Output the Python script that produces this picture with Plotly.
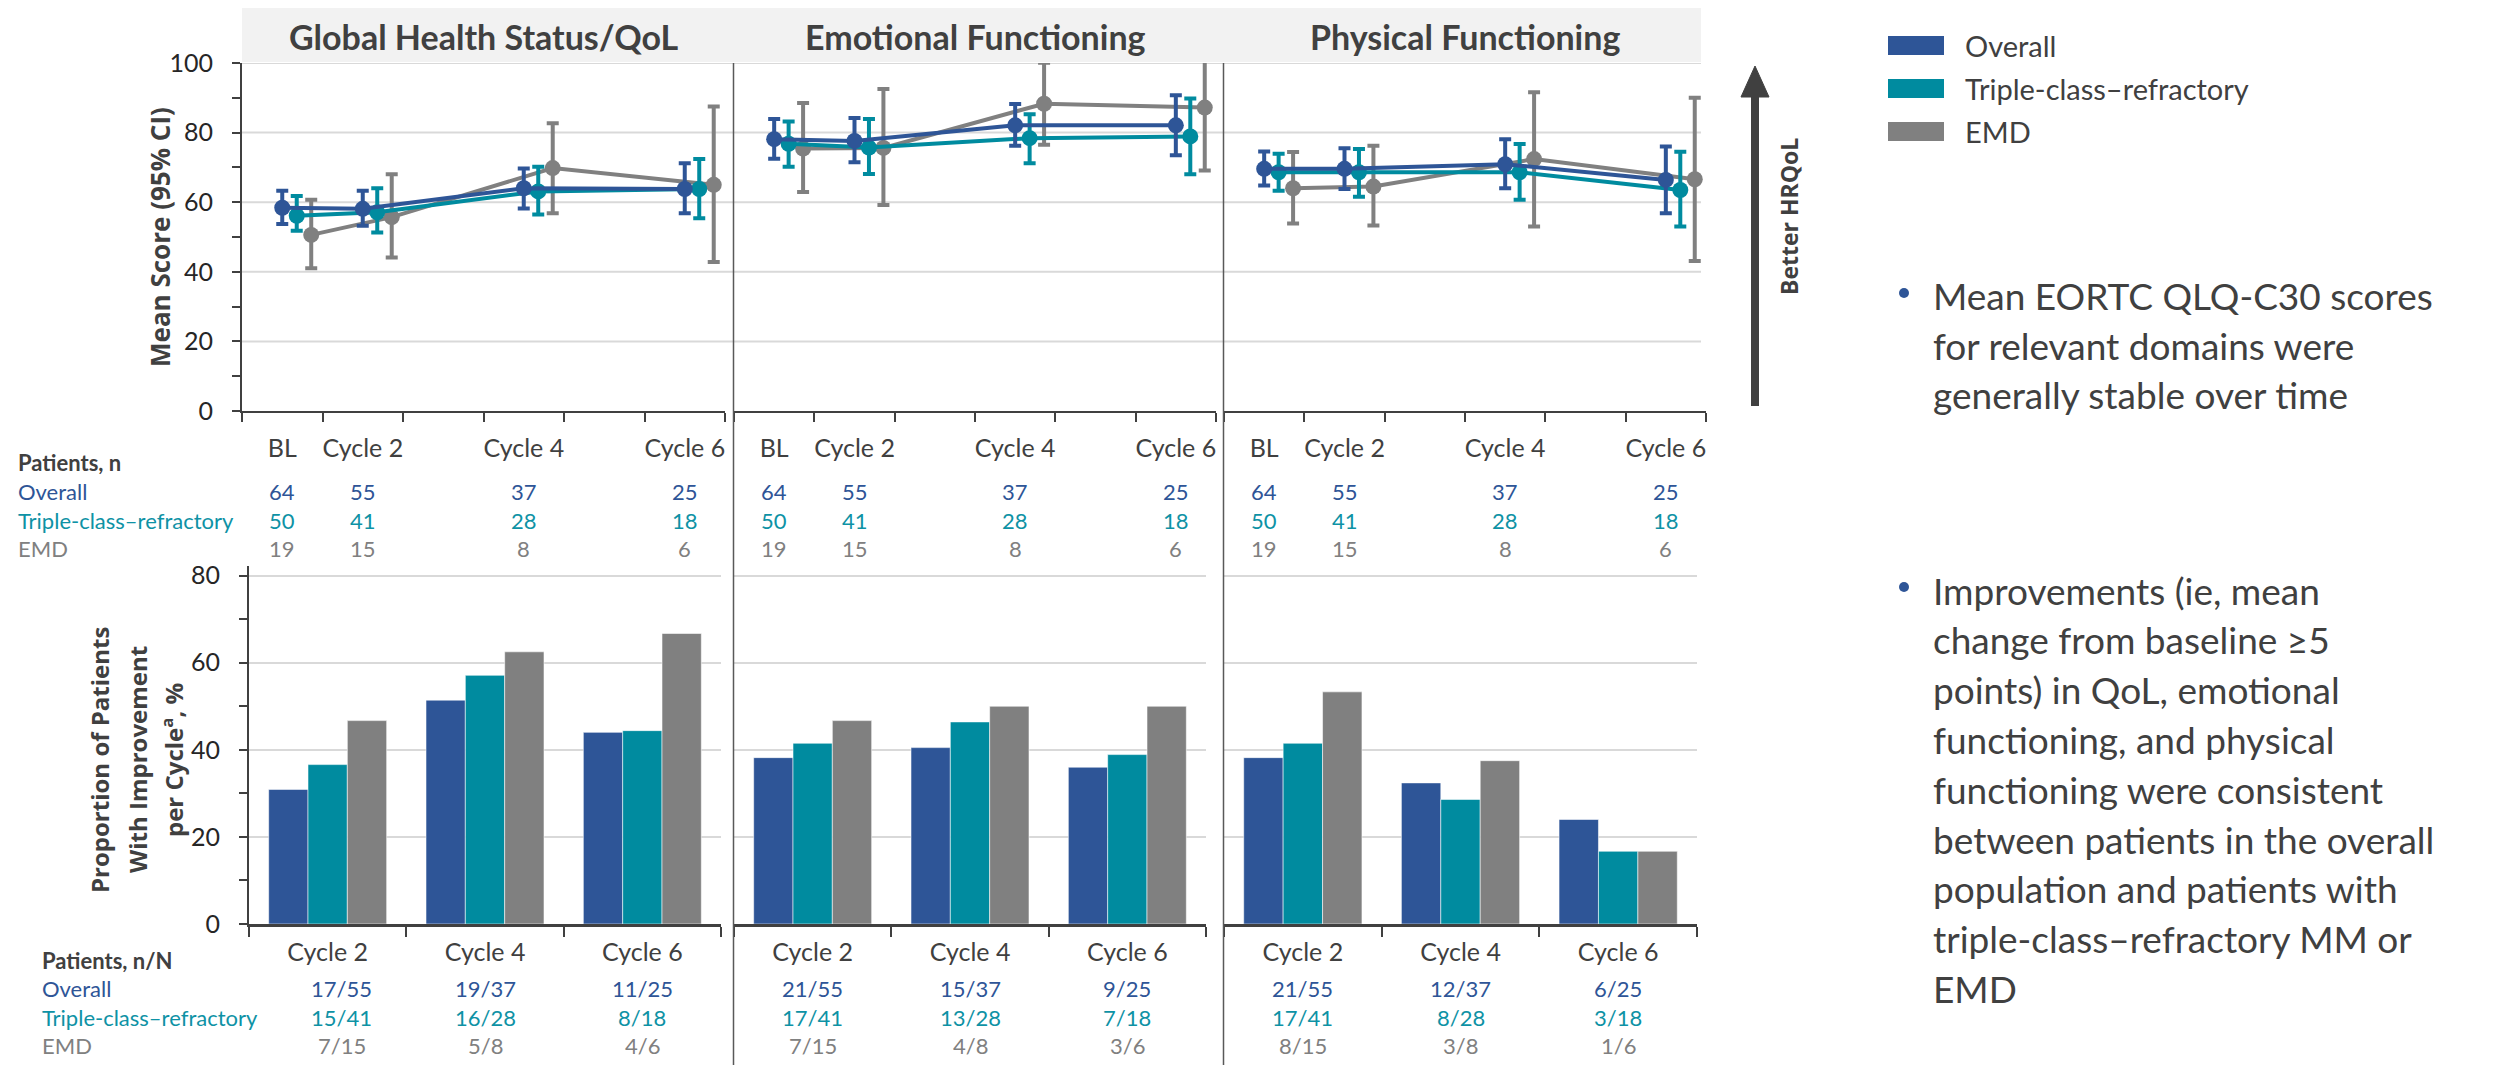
import plotly.graph_objects as go

W, H = 2499, 1065
# the page places the figure 8px in from the top-left corner; targets below are picture pixels
X_OFF, Y_OFF = 8.0, 8.0


def fx(p):
    return (p - X_OFF) / W


def fy(p):
    return 1 - (p - Y_OFF) / H


# ---------------- data ----------------
panel_titles = ["Global Health Status/QoL", "Emotional Functioning", "Physical Functioning"]
timepoints = ["BL", "Cycle 2", "Cycle 4", "Cycle 6"]
timepoint_cycle = [1, 2, 4, 6]
bar_cycles = ["Cycle 2", "Cycle 4", "Cycle 6"]
group_names = ["Overall", "Triple-class–refractory", "EMD"]

# Mean score (95% CI) — Global Health Status/QoL
ghs_overall_mean = [58.4, 58.1, 64.0, 63.8]
ghs_overall_lo = [53.7, 53.2, 58.2, 56.8]
ghs_overall_hi = [63.3, 63.3, 69.7, 71.2]
ghs_triple_mean = [56.1, 57.1, 63.1, 63.8]
ghs_triple_lo = [51.8, 51.3, 56.5, 55.4]
ghs_triple_hi = [61.8, 64.0, 70.2, 72.4]
ghs_emd_mean = [50.6, 55.7, 69.8, 65.0]
ghs_emd_lo = [41.0, 44.1, 56.8, 42.8]
ghs_emd_hi = [60.7, 68.0, 82.7, 87.5]

# Emotional Functioning
ef_overall_mean = [78.1, 77.6, 82.1, 82.1]
ef_overall_lo = [72.5, 71.5, 76.2, 73.5]
ef_overall_hi = [83.9, 84.2, 88.2, 90.7]
ef_triple_mean = [76.8, 75.7, 78.4, 78.9]
ef_triple_lo = [70.2, 68.1, 71.2, 68.0]
ef_triple_hi = [83.2, 83.9, 85.3, 89.8]
ef_emd_mean = [75.4, 75.6, 88.3, 87.2]
ef_emd_lo = [62.9, 59.2, 76.5, 69.1]
ef_emd_hi = [88.5, 92.5, 100.1, 105.3]

# Physical Functioning
pf_overall_mean = [69.6, 69.6, 70.9, 66.4]
pf_overall_lo = [64.8, 63.8, 64.0, 56.8]
pf_overall_hi = [74.6, 75.5, 78.1, 76.0]
pf_triple_mean = [68.6, 68.6, 68.6, 63.5]
pf_triple_lo = [63.3, 61.6, 60.7, 53.0]
pf_triple_hi = [73.9, 75.3, 76.7, 74.5]
pf_emd_mean = [64.0, 64.5, 72.4, 66.6]
pf_emd_lo = [53.9, 53.3, 53.0, 43.1]
pf_emd_hi = [74.4, 76.2, 91.6, 90.0]

# Patients, n
n_overall = [64, 55, 37, 25]
n_triple = [50, 41, 28, 18]
n_emd = [19, 15, 8, 6]

# Proportion of patients with improvement per cycle, %
ghs_pct_overall = [30.9, 51.4, 44.0]
ghs_pct_triple = [36.6, 57.1, 44.4]
ghs_pct_emd = [46.7, 62.5, 66.7]
ef_pct_overall = [38.2, 40.5, 36.0]
ef_pct_triple = [41.5, 46.4, 38.9]
ef_pct_emd = [46.7, 50.0, 50.0]
pf_pct_overall = [38.2, 32.4, 24.0]
pf_pct_triple = [41.5, 28.6, 16.7]
pf_pct_emd = [53.3, 37.5, 16.7]

# Patients, n/N
ghs_nN_overall = ["17/55", "19/37", "11/25"]
ghs_nN_triple = ["15/41", "16/28", "8/18"]
ghs_nN_emd = ["7/15", "5/8", "4/6"]
ef_nN_overall = ["21/55", "15/37", "9/25"]
ef_nN_triple = ["17/41", "13/28", "7/18"]
ef_nN_emd = ["7/15", "4/8", "3/6"]
pf_nN_overall = ["21/55", "12/37", "6/25"]
pf_nN_triple = ["17/41", "8/28", "3/18"]
pf_nN_emd = ["8/15", "3/8", "1/6"]

bullet1_lines = ["Mean EORTC QLQ-C30 scores", "for relevant domains were", "generally stable over time"]
bullet2_lines = ["Improvements (ie, mean", "change from baseline ≥5", "points) in QoL, emotional",
                 "functioning, and physical", "functioning were consistent",
                 "between patients in the overall", "population and patients with",
                 "triple-class–refractory MM or", "EMD"]

# ---------------- style ----------------
C_LINE = ["#2E5597", "#008B9F", "#808080"]
C_TEXT = ["#2E5597", "#0E92A5", "#808080"]
DARK = "#404040"
GRID = "#D9D9D9"
REG = "Lato, 'Open Sans', sans-serif"
WIDE_BOLD = "'Open Sans', 'Noto Sans', sans-serif"
dodge = [0.0, 0.18, 0.36]

line_sets = [
    [(ghs_overall_mean, ghs_overall_lo, ghs_overall_hi),
     (ghs_triple_mean, ghs_triple_lo, ghs_triple_hi),
     (ghs_emd_mean, ghs_emd_lo, ghs_emd_hi)],
    [(ef_overall_mean, ef_overall_lo, ef_overall_hi),
     (ef_triple_mean, ef_triple_lo, ef_triple_hi),
     (ef_emd_mean, ef_emd_lo, ef_emd_hi)],
    [(pf_overall_mean, pf_overall_lo, pf_overall_hi),
     (pf_triple_mean, pf_triple_lo, pf_triple_hi),
     (pf_emd_mean, pf_emd_lo, pf_emd_hi)],
]
bar_sets = [
    [ghs_pct_overall, ghs_pct_triple, ghs_pct_emd],
    [ef_pct_overall, ef_pct_triple, ef_pct_emd],
    [pf_pct_overall, pf_pct_triple, pf_pct_emd],
]
nN_sets = [
    [ghs_nN_overall, ghs_nN_triple, ghs_nN_emd],
    [ef_nN_overall, ef_nN_triple, ef_nN_emd],
    [pf_nN_overall, pf_nN_triple, pf_nN_emd],
]
n_sets = [n_overall, n_triple, n_emd]

top_x_px = [(242, 725), (734, 1216), (1224, 1706)]
top_y_px = (63, 411)
bot_x_px = [(249, 721), (734, 1206), (1224, 1697)]
bot_y_px = (566, 924)
BOT_TOP = 82.2
top_rows_y = [491, 520, 548]
bot_rows_y = [988, 1017, 1045]
nN_first_col_shift = [0.09, 0.0, 0.0]

fig = go.Figure()
layout = dict(
    width=W, height=H, margin=dict(l=0, r=0, t=0, b=0, autoexpand=False), autosize=False,
    paper_bgcolor="white", plot_bgcolor="white", showlegend=False,
    barmode="group", bargap=0.25, bargroupgap=0,
    font=dict(family=REG, color=DARK),
)

annotations = []
shapes = []

for p in range(3):
    xa = "x" if p == 0 else f"x{p + 1}"
    ya = "y" if p == 0 else f"y{p + 1}"
    xb = f"x{p + 4}"
    yb = f"y{p + 4}"
    # ---- top line chart ----
    for g in [2, 1, 0]:
        mean, lo, hi = line_sets[p][g]
        fig.add_trace(go.Scatter(
            x=[c + dodge[g] for c in timepoint_cycle], y=mean, xaxis=xa, yaxis=ya,
            mode="lines+markers", name=group_names[g],
            line=dict(color=C_LINE[g], width=4),
            marker=dict(color=C_LINE[g], size=16),
            error_y=dict(type="data", symmetric=False,
                         array=[h - m for h, m in zip(hi, mean)],
                         arrayminus=[m - l for m, l in zip(mean, lo)],
                         color=C_LINE[g], thickness=4, width=6),
        ))
    # ---- bottom bars ----
    for g in range(3):
        fig.add_trace(go.Bar(
            x=bar_cycles, y=bar_sets[p][g], xaxis=xb, yaxis=yb, name=group_names[g],
            marker=dict(color=C_LINE[g], line=dict(color="rgba(255,255,255,0.55)", width=1)),
        ))

    key_x = "xaxis" if p == 0 else f"xaxis{p + 1}"
    key_y = "yaxis" if p == 0 else f"yaxis{p + 1}"
    layout[key_x] = dict(
        domain=[fx(top_x_px[p][0]), fx(top_x_px[p][1])], anchor=ya, range=[0.5, 6.5],
        tickvals=timepoint_cycle, ticktext=timepoints, ticks="", ticklen=0,
        tickfont=dict(family=REG, size=25, color=DARK), ticklabelstandoff=14,
        showline=True, linecolor=DARK, linewidth=2, showgrid=False, zeroline=False,
        automargin=False,
        minor=dict(tickvals=[0.5, 1.5, 2.5, 3.5, 4.5, 5.5, 6.5], ticks="outside",
                   ticklen=9, tickwidth=2, tickcolor=DARK, showgrid=False),
    )
    layout[key_y] = dict(
        domain=[fy(top_y_px[1]), fy(top_y_px[0])], anchor=xa, range=[0, 100],
        showgrid=False, zeroline=False, automargin=False,
    )
    if p == 0:
        layout[key_y].update(
            tickvals=[0, 20, 40, 60, 80, 100], ticks="outside", ticklen=8, tickwidth=2,
            tickcolor=DARK, showline=True, linecolor=DARK, linewidth=2,
            tickfont=dict(family=REG, size=25, color="#262626"), ticklabelstandoff=14,
            minor=dict(tickvals=[10, 30, 50, 70, 90], ticks="outside", ticklen=8,
                       tickwidth=2, tickcolor=DARK, showgrid=False),
        )
    else:
        layout[key_y].update(showticklabels=False, ticks="", showline=False)

    layout[f"xaxis{p + 4}"] = dict(
        domain=[fx(bot_x_px[p][0]), fx(bot_x_px[p][1])], anchor=yb, type="category",
        range=[-0.5, 2.5], tickson="boundaries", ticks="outside", ticklen=10, tickwidth=2,
        tickcolor=DARK, showline=True, linecolor=DARK, linewidth=3,
        tickfont=dict(family=REG, size=25, color=DARK), ticklabelstandoff=4,
        showgrid=False, zeroline=False, automargin=False,
    )
    layout[f"yaxis{p + 4}"] = dict(
        domain=[fy(bot_y_px[1]), fy(bot_y_px[0])], anchor=xb, range=[0, BOT_TOP],
        tickvals=[0, 20, 40, 60, 80], showgrid=True, gridcolor=GRID, gridwidth=2,
        zeroline=False, automargin=False,
    )
    if p == 0:
        layout[f"yaxis{p + 4}"].update(
            ticks="outside", ticklen=8, tickwidth=2, tickcolor=DARK, showline=True,
            linecolor=DARK, linewidth=2, tickfont=dict(family=REG, size=25, color="#262626"),
            ticklabelstandoff=14,
            minor=dict(tickvals=[10, 30, 50, 70], ticks="outside", ticklen=8, tickwidth=2,
                       tickcolor=DARK, showgrid=False),
        )
    else:
        layout[f"yaxis{p + 4}"].update(showticklabels=False, ticks="", showline=False)

    # panel title
    annotations.append(dict(
        text=panel_titles[p], xref="paper", yref="paper",
        x=fx((top_x_px[p][0] + top_x_px[p][1]) / 2), y=fy(36),
        xanchor="center", yanchor="middle", showarrow=False,
        font=dict(family=REG, size=34, color=DARK, weight="bold"),
    ))
    # Patients, n table numbers
    for g in range(3):
        for i in range(4):
            annotations.append(dict(
                text=str(n_sets[g][i]), xref=xa, yref="paper", x=timepoint_cycle[i],
                y=fy(top_rows_y[g]), xanchor="center", yanchor="middle", showarrow=False,
                font=dict(family=REG, size=22, color=C_TEXT[g]),
            ))
    # Patients, n/N table
    for g in range(3):
        for i in range(3):
            annotations.append(dict(
                text=nN_sets[p][g][i], xref=xb, yref="paper",
                x=i + (nN_first_col_shift[p] if i == 0 else 0.0),
                y=fy(bot_rows_y[g]), xanchor="center", yanchor="middle", showarrow=False,
                font=dict(family=REG, size=22, color=C_TEXT[g]),
            ))

# continuous gridlines across top panels
for v in [20, 40, 60, 80, 100]:
    shapes.append(dict(type="line", xref="paper", yref="y", x0=fx(242), x1=fx(1701), y0=v, y1=v,
                       line=dict(color=GRID, width=2), layer="below"))
# header band
shapes.append(dict(type="rect", xref="paper", yref="paper", x0=fx(242), x1=fx(1701),
                   y0=fy(62), y1=1.0, fillcolor="#F2F2F2", line=dict(width=0), layer="below"))
# panel separators
for sx in [733.5, 1223.5]:
    shapes.append(dict(type="line", xref="paper", yref="paper", x0=fx(sx), x1=fx(sx),
                       y0=fy(63), y1=0, line=dict(color="#595959", width=1.5)))

# row labels
row_labels_top = [("Patients, n", 463, DARK, True)] + [
    (group_names[g], top_rows_y[g], C_TEXT[g], False) for g in range(3)]
for text, yy, col, bold in row_labels_top:
    annotations.append(dict(text=text, xref="paper", yref="paper", x=fx(16), y=fy(yy),
                            xanchor="left", yanchor="middle", showarrow=False,
                            font=dict(family=REG, size=22, color=col,
                                      weight="bold" if bold else "normal")))
row_labels_bot = [("Patients, n/N", 960, DARK, True)] + [
    (group_names[g], bot_rows_y[g], C_TEXT[g], False) for g in range(3)]
for text, yy, col, bold in row_labels_bot:
    annotations.append(dict(text=text, xref="paper", yref="paper", x=fx(40), y=fy(yy),
                            xanchor="left", yanchor="middle", showarrow=False,
                            font=dict(family=REG, size=22, color=col,
                                      weight="bold" if bold else "normal")))

# y-axis titles
annotations.append(dict(text="Mean Score (95% CI)", xref="paper", yref="paper", x=fx(160), y=fy(237),
                        xanchor="center", yanchor="middle", textangle=-90, showarrow=False,
                        font=dict(family=WIDE_BOLD, size=26, color=DARK, weight="bold")))
for text, xx in [("Proportion of Patients", 99), ("With Improvement", 137),
                 ("per Cycle<sup>a</sup>, %", 172)]:
    annotations.append(dict(text=text, xref="paper", yref="paper", x=fx(xx), y=fy(760),
                            xanchor="center", yanchor="middle", textangle=-90, showarrow=False,
                            font=dict(family=WIDE_BOLD, size=24, color=DARK, weight="bold")))

# legend (manual)
for g, (y0, y1) in enumerate([(36, 55), (79, 98), (122, 141)]):
    shapes.append(dict(type="rect", xref="paper", yref="paper", x0=fx(1888), x1=fx(1944),
                       y0=fy(y1), y1=fy(y0), fillcolor=C_LINE[g], line=dict(width=0)))
    annotations.append(dict(text=group_names[g], xref="paper", yref="paper", x=fx(1963),
                            y=fy((y0 + y1) / 2), xanchor="left", yanchor="middle", showarrow=False,
                            font=dict(family=REG, size=29, color=DARK)))

# Better HRQoL arrow
shapes.append(dict(type="line", xref="paper", yref="paper", x0=fx(1755), x1=fx(1755),
                   y0=fy(406), y1=fy(92), line=dict(color=DARK, width=8)))
shapes.append(dict(type="path", xref="paper", yref="paper",
                   path=f"M {fx(1741)},{fy(97)} L {fx(1755)},{fy(66)} L {fx(1769)},{fy(97)} Z",
                   fillcolor=DARK, line=dict(color=DARK, width=1)))
annotations.append(dict(text="Better HRQoL", xref="paper", yref="paper", x=fx(1789), y=fy(217),
                        xanchor="center", yanchor="middle", textangle=-90, showarrow=False,
                        font=dict(family=WIDE_BOLD, size=23, color=DARK, weight="bold")))

# bullets
BUL_X, TXT_X = 1904, 1931
for lines, y_first, step in [(bullet1_lines, 296, 49.5), (bullet2_lines, 590, 49.8)]:
    shapes.append(dict(type="circle", xref="paper", yref="paper", x0=fx(BUL_X - 5), x1=fx(BUL_X + 5),
                       y0=fy(y_first - 3 + 5), y1=fy(y_first - 3 - 5), fillcolor="#2E5597",
                       line=dict(width=0)))
    for k, t in enumerate(lines):
        annotations.append(dict(text=t, xref="paper", yref="paper", x=fx(TXT_X), y=fy(y_first + step * k),
                                xanchor="left", yanchor="middle", showarrow=False,
                                font=dict(family=REG, size=37, color=DARK)))

layout["annotations"] = annotations
layout["shapes"] = shapes
fig.update_layout(**layout)
fig.write_html("out.html")
